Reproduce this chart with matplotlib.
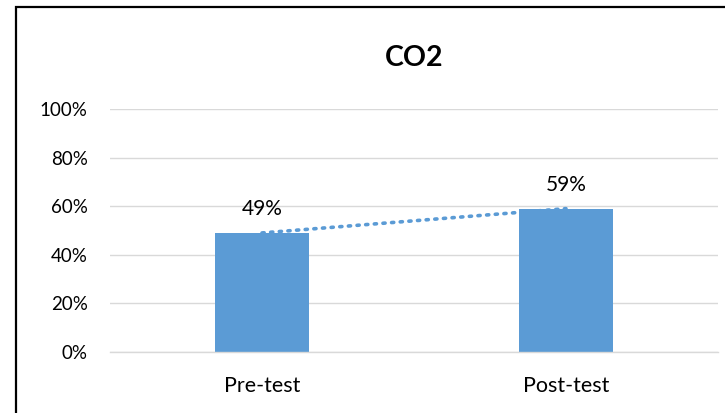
import matplotlib
matplotlib.use("Agg")
import matplotlib.pyplot as plt
import matplotlib.ticker as ticker
from matplotlib.patches import Rectangle

categories = ["Pre-test", "Post-test"]
values = [0.49, 0.59]
yticks = [0, 0.2, 0.4, 0.6, 0.8, 1.0]

plt.rcParams["font.family"] = ["Lato", "DejaVu Sans"]

blue = "#5B9BD5"
grid = "#D9D9D9"

fig = plt.figure(figsize=(7.25, 4.13), dpi=100)
ax = fig.add_axes([110 / 725, 1 - 352 / 413, 608 / 725, 243 / 413])

x = list(range(len(categories)))
ax.bar(x, values, width=0.31, color=blue, zorder=2)

# linear trendline through the bar tops (dotted)
ax.plot(x, values, linestyle=(0, (0.6, 1.8)), dash_capstyle="round",
        color=blue, linewidth=2.6, zorder=3)

for xi, v in zip(x, values):
    ax.annotate("{:.0%}".format(v), (xi, v), xytext=(0, 13),
                textcoords="offset points", ha="center", va="baseline",
                fontsize=15, color="#000000")

ax.set_xlim(-0.5, 1.5)
ax.set_ylim(0, 1)
ax.set_yticks(yticks)
ax.yaxis.set_major_formatter(ticker.FuncFormatter(lambda v, pos: "{:.0f}%".format(v * 100)))
ax.set_xticks(x)
ax.set_xticklabels(categories)
ax.grid(axis="y", color=grid, linewidth=1, zorder=0)
ax.set_axisbelow(True)
for s in ["top", "right", "left"]:
    ax.spines[s].set_visible(False)
ax.spines["bottom"].set_color(grid)
ax.spines["bottom"].set_linewidth(1)
ax.tick_params(axis="both", length=0, colors="#000000")
ax.tick_params(axis="y", pad=16, labelsize=13.5)
ax.tick_params(axis="x", pad=17, labelsize=15.5)

fig.text(414 / 725, 1 - 58 / 413, "CO2", ha="center", va="center",
         fontsize=20.5, fontweight="bold")

# chart border
fig.patches.append(Rectangle((16 / 725, -0.2), 1.2, 1.2 - 7 / 413,
                             transform=fig.transFigure, fill=False,
                             edgecolor="black", linewidth=1.6))

fig.savefig("out.png", dpi=100)
